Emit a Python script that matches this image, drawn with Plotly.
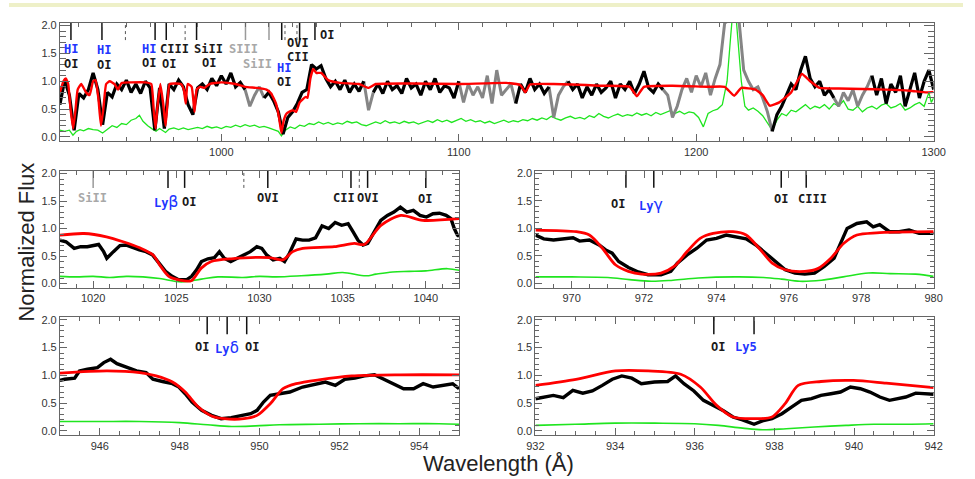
import plotly.graph_objects as go

W, H = 975, 479

# ---------------- DATA ----------------
# Top panel: overview spectrum (2 A grid)
top_wl = list(range(932, 1301, 2))
top_flux = [
    0.58, 1.02, 0.75, 0.12, 0.78, 0.70, 0.85, 1.15, 0.85, 0.22,
    0.80, 0.72, 0.95, 0.85, 1.02, 0.80, 0.95, 0.78, 1.00, 0.88,
    0.12, 0.88, 0.15, 0.95, 0.85, 1.02, 0.90, 0.58, 0.40, 0.88,
    0.95, 0.85, 1.05, 0.92, 1.10, 0.95, 1.15, 0.90, 0.98, 0.85,
    0.55, 0.75, 0.90, 0.70, 0.80, 0.65, 0.45, 0.05, 0.35, 0.45,
    0.60, 0.80, 0.85, 1.30, 1.22, 1.28, 1.05, 0.90, 1.00, 0.85,
    1.02, 0.80, 0.95, 0.82, 1.00, 0.48, 0.80, 0.95, 0.78, 1.00,
    0.85, 0.92, 0.78, 1.05, 0.88, 0.95, 0.75, 1.00, 0.85, 1.05,
    0.80, 0.92, 0.88, 0.70, 1.00, 0.62, 0.95, 0.75, 0.90, 0.70,
    1.10, 0.60, 1.20, 0.75, 0.85, 0.95, 0.60, 0.95, 0.80, 1.05,
    0.85, 0.95, 0.78, 0.90, 0.35, 0.75, 0.90, 1.00, 0.85, 0.95,
    0.70, 0.90, 0.75, 0.95, 0.80, 0.88, 1.00, 0.70, 0.95, 0.85,
    1.00, 0.78, 0.95, 1.18, 0.88, 0.80, 0.95, 0.85, 0.75, 0.35,
    0.55, 0.85, 1.05, 0.80, 1.10, 0.90, 1.15, 0.75, 1.05, 1.30,
    2.05, 2.10, 2.10, 2.10, 1.20, 1.00, 0.85, 0.90, 0.70, 0.45,
    0.10, 0.40, 0.55, 0.75, 0.95, 0.85, 1.20, 1.45, 1.05, 0.90,
    1.00, 0.75, 0.85, 0.70, 0.55, 0.80, 0.65, 0.85, 0.55, 0.75,
    0.90, 1.10, 0.75, 1.05, 0.60, 0.95, 0.80, 1.10, 0.55, 0.85,
    1.15, 0.70, 1.00, 1.20, 0.85,
]
# wavelength ranges where the overview data are flagged (drawn in gray)
top_gray_ranges = [(1010, 1018), (1060, 1064), (1100, 1124), (1138, 1146),
                   (1186, 1232), (1258, 1274)]

top_model_wl = [932, 933.5, 934.5, 935.5, 936.5, 937.6, 938.6, 939.5, 941, 943, 944.5,
                946, 947, 948.2, 949.3, 950.3, 951.5, 953, 955, 956.5, 958, 962, 968,
                970.5, 971.5, 972.3, 973, 974.3, 975.5, 976.5, 977.3, 978.2, 983, 984.2,
                985, 985.8, 987.5, 988.7, 989.6, 991, 993, 995, 1000, 1006, 1010, 1015,
                1019, 1021, 1023, 1024.3, 1025.3, 1026.3, 1027.5, 1030, 1031.5, 1033,
                1035.5, 1036.3, 1037.5, 1038.7, 1040, 1042, 1045, 1050, 1058, 1062,
                1065, 1080, 1100, 1120, 1126, 1128, 1130, 1140, 1160, 1172, 1175, 1178,
                1190, 1205, 1212, 1216, 1219, 1225, 1228, 1231, 1235, 1240, 1244.5,
                1248, 1252, 1260, 1270, 1280, 1290, 1297, 1300]
top_model = [0.80, 1.00, 1.05, 0.95, 0.50, 0.15, 0.50, 0.85, 0.95, 0.80, 0.75,
             1.00, 1.02, 0.70, 0.20, 0.50, 0.95, 1.00, 0.95, 0.85, 0.97, 0.98, 0.98,
             0.95, 0.50, 0.15, 0.50, 0.95, 0.60, 0.20, 0.60, 0.95, 0.95, 0.85,
             0.60, 0.95, 0.90, 0.45, 0.85, 0.90, 0.88, 0.95, 0.98, 0.95, 0.90, 0.88,
             0.85, 0.78, 0.60, 0.35, 0.07, 0.30, 0.42, 0.48, 0.45, 0.62,
             0.72, 0.70, 1.05, 1.22, 1.15, 1.15, 1.02, 0.97, 0.95, 0.88,
             0.95, 0.96, 0.95, 0.97, 0.93, 0.80, 0.94, 0.95, 0.92, 0.90, 0.73, 0.90,
             0.92, 0.90, 0.90, 0.74, 0.88, 0.85, 0.75, 0.56, 0.62, 0.80, 1.13,
             1.00, 0.88, 0.87, 0.86, 0.85, 0.83, 0.80, 0.81]

top_err_wl = [932, 934, 936, 937.5, 939, 940.5, 942, 944, 946, 948, 950, 952, 954, 956, 958,
              960, 962, 964, 965.5, 967, 969, 971, 972.5, 974, 976.5, 978, 980, 982, 984,
              986, 988, 990, 992, 994, 996, 998, 1000, 1002, 1004, 1006, 1008, 1010, 1012,
              1014, 1016, 1018, 1020, 1022, 1024, 1025.3, 1027, 1029, 1031, 1033, 1035,
              1037, 1039, 1041, 1043, 1045, 1047, 1049, 1051, 1053, 1055, 1057, 1059,
              1061, 1063, 1065, 1067, 1069, 1071, 1073, 1075, 1077, 1079, 1081, 1083,
              1085, 1087, 1089, 1091, 1093, 1095, 1097, 1099, 1101, 1103, 1105, 1107,
              1109, 1111, 1113, 1115, 1117, 1119, 1121, 1123, 1125, 1127, 1129, 1131,
              1133, 1135, 1137, 1139, 1141, 1143, 1145, 1147, 1149, 1151, 1153, 1155,
              1157, 1159, 1161, 1163, 1165, 1167, 1169, 1171, 1173, 1175, 1177, 1179,
              1181, 1183, 1185, 1187, 1189, 1191, 1193, 1195, 1197, 1199, 1201, 1203,
              1205, 1207, 1209, 1211, 1213, 1214.5, 1215.5, 1216.5, 1217.5, 1219, 1220.5,
              1222, 1224, 1226, 1228, 1230, 1232, 1234, 1236, 1238, 1240, 1242, 1244,
              1246, 1248, 1250, 1252, 1254, 1256, 1258, 1260, 1262, 1264, 1266, 1268,
              1270, 1272, 1274, 1276, 1278, 1280, 1282, 1284, 1286, 1288, 1290, 1292,
              1294, 1296, 1298, 1299, 1300]
top_err = [0.12, 0.10, 0.12, 0.03, 0.10, 0.13, 0.11, 0.15, 0.13, 0.12, 0.07, 0.14, 0.20, 0.17, 0.24,
           0.22, 0.30, 0.33, 0.39, 0.28, 0.20, 0.14, 0.10, 0.15, 0.08, 0.14, 0.16, 0.13, 0.16,
           0.13, 0.15, 0.17, 0.15, 0.19, 0.16, 0.18, 0.15, 0.19, 0.17, 0.21, 0.18, 0.22, 0.19,
           0.21, 0.17, 0.19, 0.16, 0.13, 0.10, 0.02, 0.12, 0.18, 0.15, 0.21, 0.19,
           0.24, 0.22, 0.27, 0.23, 0.26, 0.22, 0.25, 0.23, 0.28, 0.25, 0.27, 0.22,
           0.20, 0.24, 0.27, 0.24, 0.29, 0.25, 0.27, 0.24, 0.28, 0.25, 0.27, 0.23,
           0.26, 0.29, 0.26, 0.31, 0.27, 0.30, 0.26, 0.29, 0.33, 0.28, 0.31, 0.27,
           0.29, 0.25, 0.28, 0.24, 0.27, 0.30, 0.26, 0.29, 0.27, 0.31, 0.29, 0.33,
           0.30, 0.34, 0.31, 0.37, 0.33, 0.30, 0.34, 0.37, 0.33, 0.35, 0.32, 0.38,
           0.35, 0.42, 0.37, 0.34, 0.38, 0.41, 0.37, 0.40, 0.38, 0.43, 0.39, 0.42,
           0.38, 0.44, 0.40, 0.43, 0.47, 0.42, 0.46, 0.41, 0.45, 0.43, 0.35, 0.18,
           0.42, 0.47, 0.50, 0.58, 1.00, 1.80, 2.30, 2.30, 1.80, 1.00, 0.55,
           0.48, 0.52, 0.46, 0.38, 0.25, 0.12, 0.30, 0.42, 0.38, 0.48, 0.45, 0.52,
           0.58, 0.50, 0.55, 0.52, 0.58, 0.50, 0.60, 0.55, 0.65, 0.50, 0.48, 0.55,
           0.45, 0.52, 0.55, 0.50, 0.57, 0.60, 0.52, 0.55, 0.60, 0.48, 0.52, 0.58,
           0.62, 0.55, 0.80, 0.62, 0.70]

# Line identification ticks (wavelength, style) for overview panel
top_line_wl = [936.66, 949.72, 959.6, 972.1, 976.8, 984.75, 989.57, 1010.17, 1020.07,
               1025.43, 1026.8, 1031.85, 1032.96, 1039.43]
top_line_kind = ["solid", "solid", "dot", "solid", "solid", "dot", "solid", "gray", "gray",
                 "solid", "dot", "dot", "solid", "solid"]
top_labels = [("HI", 936.7, 1.58, "b"), ("OI", 936.7, 1.31, "k"),
              ("HI", 950.7, 1.57, "b"), ("OI", 950.7, 1.30, "k"),
              ("HI", 969.4, 1.58, "b"), ("OI", 969.4, 1.32, "k"),
              ("CIII", 980.3, 1.58, "k"), ("OI", 977.9, 1.31, "k"),
              ("SiII", 994.6, 1.58, "k"), ("OI", 994.6, 1.33, "k"),
              ("SIII", 1009.2, 1.58, "g"), ("SiII", 1015.2, 1.31, "g"),
              ("HI", 1026.4, 1.24, "b"), ("OI", 1026.4, 0.98, "k"),
              ("OVI", 1032.1, 1.68, "k"), ("CII", 1032.1, 1.44, "k"),
              ("OI", 1044.5, 1.83, "k")]

# Panel 2: Ly-beta region
p2_wl = [1018.00, 1018.37, 1018.86, 1019.25, 1019.65, 1020.04, 1020.33, 1020.63, 1020.82,
         1021.22, 1021.61, 1022.00, 1022.39, 1022.78, 1023.18, 1023.57, 1023.96, 1024.35,
         1024.75, 1025.14, 1025.63, 1025.92, 1026.22, 1026.51, 1026.90, 1027.29, 1027.59,
         1027.88, 1028.27, 1028.67, 1029.06, 1029.45, 1029.84, 1030.14, 1030.43, 1030.82,
         1031.22, 1031.51, 1031.80, 1032.20, 1032.59, 1032.98, 1033.37, 1033.76, 1034.16,
         1034.55, 1034.94, 1035.33, 1035.63, 1035.92, 1036.22, 1036.51, 1036.90, 1037.29,
         1037.69, 1038.08, 1038.47, 1038.86, 1039.25, 1039.65, 1040.04, 1040.43, 1040.82,
         1041.22, 1041.51, 1041.71, 1041.90, 1042.0]
p2_flux = [0.79, 0.76, 0.64, 0.67, 0.67, 0.70, 0.71, 0.58, 0.46,
           0.58, 0.69, 0.70, 0.65, 0.61, 0.58, 0.52, 0.37, 0.22,
           0.13, 0.07, 0.07, 0.13, 0.25, 0.40, 0.45, 0.47, 0.58,
           0.46, 0.40, 0.46, 0.52, 0.58, 0.67, 0.64, 0.52, 0.43,
           0.46, 0.40, 0.55, 0.81, 0.79, 0.79, 0.83, 1.05, 1.00,
           1.11, 1.06, 1.09, 0.94, 0.79, 0.70, 0.73, 0.94, 1.15,
           1.24, 1.30, 1.39, 1.30, 1.33, 1.24, 1.21, 1.27, 1.28,
           1.24, 1.18, 1.00, 0.88, 0.86]
p2_model_wl = [1018.0, 1019.45, 1020.8, 1021.8, 1022.8, 1023.6, 1024.0, 1024.55, 1025.1,
               1025.9, 1026.5, 1027.1, 1028.3, 1030.6, 1031.4, 1032.0, 1032.6, 1034.5,
               1035.7, 1036.3, 1037.3, 1038.5, 1039.8, 1042.0]
p2_model = [0.88, 0.91, 0.85, 0.76, 0.65, 0.52, 0.34, 0.13, 0.07,
            0.05, 0.28, 0.40, 0.45, 0.47, 0.43, 0.58, 0.64, 0.67,
            0.73, 0.71, 1.06, 1.24, 1.15, 1.18]
p2_err_wl = [1018, 1019, 1020, 1021, 1022, 1023, 1024, 1025.3, 1026.5, 1027.5, 1029, 1030,
             1031, 1032.5, 1034, 1035, 1036.4, 1037, 1038, 1039, 1040, 1041.3, 1042]
p2_err = [0.13, 0.12, 0.13, 0.11, 0.13, 0.12, 0.09, 0.03, 0.08, 0.12, 0.11, 0.13,
          0.12, 0.14, 0.17, 0.20, 0.14, 0.17, 0.21, 0.22, 0.23, 0.27, 0.24]
p2_line_wl = [1020.0, 1024.5, 1025.5, 1029.06, 1030.5, 1035.5, 1036.0, 1036.5, 1040.0]
p2_line_kind = ["gray", "solid", "solid", "dot", "solid", "solid", "dot", "solid", "solid"]
p2_labels = [("SiII", 1019.94, 1.55, "g"), ("Lyβ", 1024.35, 1.49, "b"),
             ("OI", 1025.76, 1.49, "k"), ("OVI", 1030.53, 1.56, "k"),
             ("CII", 1035.06, 1.55, "k"), ("OVI", 1036.53, 1.55, "k"),
             ("OI", 1039.94, 1.53, "k")]

# Panel 3: Ly-gamma region
p3_wl = [969.00, 969.23, 969.50, 969.77, 970.04, 970.22, 970.49, 970.76, 970.94, 971.12,
         971.30, 971.57, 971.84, 972.11, 972.47, 972.74, 972.92, 973.19, 973.46, 973.73,
         974.00, 974.27, 974.55, 974.82, 975.09, 975.36, 975.63, 975.90, 976.17, 976.44,
         976.71, 976.98, 977.25, 977.43, 977.61, 977.88, 978.15, 978.33, 978.51, 978.78,
         979.05, 979.32, 979.60, 980.00]
p3_flux = [0.88, 0.81, 0.79, 0.81, 0.83, 0.77, 0.79, 0.70, 0.61, 0.55,
           0.40, 0.29, 0.21, 0.16, 0.16, 0.22, 0.37, 0.52, 0.64, 0.79,
           0.82, 0.88, 0.85, 0.81, 0.70, 0.55, 0.40, 0.25, 0.19, 0.17,
           0.19, 0.31, 0.46, 0.73, 1.00, 1.09, 1.12, 1.03, 1.07, 0.94,
           0.94, 0.97, 0.91, 0.91]
p3_model_wl = [969.0, 970.13, 970.49, 970.85, 971.21, 971.57, 971.93, 972.47, 972.83, 973.19,
               973.55, 973.91, 974.46, 974.82, 975.18, 975.54, 975.90, 976.44, 976.80,
               977.16, 977.52, 977.88, 978.42, 980.0]
p3_model = [0.97, 0.94, 0.88, 0.64, 0.34, 0.22, 0.17, 0.19, 0.31, 0.58,
            0.82, 0.91, 0.94, 0.88, 0.64, 0.37, 0.25, 0.22, 0.27,
            0.46, 0.73, 0.88, 0.92, 0.94]
p3_err_wl = [969, 970, 971, 971.6, 972.2, 972.8, 973.5, 974.5, 975.3, 975.8, 976.3, 976.9,
             977.5, 978.2, 978.8, 979.5, 980]
p3_err = [0.12, 0.12, 0.11, 0.07, 0.04, 0.06, 0.10, 0.12, 0.11, 0.08, 0.04, 0.06,
          0.12, 0.19, 0.18, 0.17, 0.13]
p3_line_wl = [971.5, 972.27, 975.79, 976.48]
p3_line_kind = ["solid", "solid", "solid", "solid"]
p3_labels = [("OI", 971.29, 1.44, "k"), ("Lyγ", 972.2, 1.44, "b"),
             ("OI", 975.79, 1.53, "k"), ("CIII", 976.66, 1.53, "k")]

# Panel 4: Ly-delta region
p4_wl = [945.00, 945.12, 945.37, 945.49, 945.69, 945.94, 946.10, 946.27, 946.43, 946.67,
         946.92, 947.16, 947.33, 947.57, 947.82, 947.98, 948.14, 948.31, 948.55, 948.80,
         949.04, 949.29, 949.53, 949.78, 949.94, 950.10, 950.27, 950.51, 950.76, 951.08,
         951.41, 951.65, 951.90, 952.14, 952.39, 952.63, 952.88, 953.12, 953.37, 953.61,
         953.86, 954.10, 954.35, 954.59, 954.84, 955.00]
p4_flux = [0.91, 0.93, 0.95, 1.08, 1.11, 1.14, 1.23, 1.29, 1.21, 1.14,
           1.08, 1.05, 0.93, 0.89, 0.85, 0.79, 0.67, 0.52, 0.37, 0.28,
           0.22, 0.24, 0.27, 0.31, 0.37, 0.52, 0.64, 0.67, 0.70, 0.79,
           0.85, 0.88, 0.82, 0.93, 0.95, 0.99, 1.01, 0.93, 0.85, 0.76,
           0.76, 0.85, 0.79, 0.82, 0.85, 0.76]
p4_model_wl = [945.0, 946.18, 947.0, 947.41, 947.82, 948.14, 948.47, 948.8, 949.12, 949.61,
               949.94, 950.27, 950.59, 950.92, 951.49, 952.31, 953.53, 955.0]
p4_model = [1.04, 1.08, 1.05, 0.99, 0.88, 0.70, 0.43, 0.27, 0.22, 0.22,
            0.28, 0.49, 0.76, 0.85, 0.92, 0.99, 1.01, 1.01]
p4_err_wl = [945, 946, 947, 948, 948.7, 949.3, 949.9, 950.5, 951.5, 952.5, 953.5, 954.5, 955]
p4_err = [0.17, 0.17, 0.17, 0.15, 0.11, 0.08, 0.09, 0.11, 0.12, 0.13, 0.13, 0.13, 0.12]
p4_line_wl = [948.69, 949.19, 949.68]
p4_line_kind = ["solid", "solid", "solid"]
p4_labels = [("OI", 948.55, 1.51, "k"), ("Lyδ", 949.19, 1.51, "b"),
             ("OI", 949.82, 1.51, "k")]

# Panel 5: Ly-5 region
p5_wl = [932.00, 932.20, 932.45, 932.70, 932.94, 933.19, 933.43, 933.68, 933.93, 934.17,
         934.42, 934.66, 934.99, 935.32, 935.52, 935.73, 935.98, 936.22, 936.47, 936.71,
         936.96, 937.20, 937.49, 937.70, 937.94, 938.19, 938.43, 938.68, 938.93, 939.17,
         939.42, 939.66, 939.91, 940.16, 940.40, 940.65, 940.89, 941.14, 941.30, 941.55,
         941.80, 942.00]
p5_flux = [0.58, 0.61, 0.64, 0.60, 0.73, 0.68, 0.72, 0.82, 0.93, 0.99,
           0.95, 0.85, 0.88, 0.89, 0.99, 0.85, 0.72, 0.55, 0.46, 0.37,
           0.25, 0.20, 0.12, 0.18, 0.22, 0.31, 0.43, 0.55, 0.58, 0.64,
           0.67, 0.70, 0.79, 0.76, 0.70, 0.61, 0.55, 0.58, 0.61, 0.68,
           0.67, 0.66]
p5_model_wl = [932.0, 933.02, 934.01, 934.83, 935.65, 936.14, 936.55, 936.96, 937.53, 937.94,
               938.27, 938.6, 939.17, 939.99, 940.81, 942.0]
p5_model = [0.82, 0.93, 1.08, 1.08, 1.02, 0.79, 0.46, 0.25, 0.22, 0.25,
            0.49, 0.82, 0.89, 0.91, 0.86, 0.78]
p5_err_wl = [932, 933, 934, 935, 936, 936.6, 937.2, 937.7, 938.3, 939, 939.8, 940.5, 941.3, 942]
p5_err = [0.10, 0.12, 0.14, 0.14, 0.13, 0.10, 0.05, 0.02, 0.04, 0.07, 0.10, 0.12, 0.12, 0.13]
p5_line_wl = [936.48, 937.49]
p5_line_kind = ["solid", "solid"]
p5_labels = [("OI", 936.59, 1.51, "k"), ("Ly5", 937.3, 1.51, "b")]

# ---------------- STYLE / LAYOUT ----------------
BLACK = "#000000"
GRAYDATA = "#858585"
RED = "#ff0000"
GREEN = "#1fe51f"
LABEL_COL = {"k": "#1a1a1a", "b": "#2235ff", "g": "#a8a8a8"}
TICK_TOP, TICK_BOT = 2.05, 1.74

def xd(a, b):
    return [a / W, b / W]

def yd(top, bottom):
    return [1 - bottom / H, 1 - top / H]

panels = {
    1: dict(x=xd(52, 945), y=yd(20, 139.5), xr=[932, 1300], dt=100, t0=1000, mdt=10),
    2: dict(x=xd(52, 460), y=yd(169.3, 287.3), xr=[1018, 1042], dt=5, t0=1020, mdt=1),
    3: dict(x=xd(538, 945), y=yd(169, 287.3), xr=[969, 980], dt=2, t0=970, mdt=0.5),
    4: dict(x=xd(52, 460), y=yd(316.7, 436), xr=[945, 955], dt=2, t0=946, mdt=0.5),
    5: dict(x=xd(538, 945), y=yd(316.7, 436), xr=[932, 942], dt=2, t0=932, mdt=0.5),
}

fig = go.Figure()

def axn(i):
    return ("x", "y") if i == 1 else (f"x{i}", f"y{i}")

def add_lines(i, wls, kinds):
    xa, ya = axn(i)
    for kind, col, dash, wd in [("solid", "#111111", "solid", 1.5),
                                ("dot", "#555555", "dot", 1.0),
                                ("gray", "#9a9a9a", "solid", 1.5)]:
        xs, ys = [], []
        for w, k in zip(wls, kinds):
            if k == kind:
                xs += [w, w, None]
                ys += [TICK_BOT, TICK_TOP, None]
        if xs:
            fig.add_trace(go.Scatter(x=xs, y=ys, mode="lines", xaxis=xa, yaxis=ya,
                                     line=dict(color=col, width=wd, dash=dash),
                                     hoverinfo="skip", showlegend=False))

def add_labels(i, labels):
    xa, ya = axn(i)
    for txt, w, v, c in labels:
        if txt.startswith("Ly") and txt[2] in "βγδ":
            t = "<b>Ly</b><span style='font-size:16px'>" + txt[2] + "</span>"
        else:
            t = "<b>" + txt + "</b>"
        fig.add_annotation(x=w, y=v, xref=xa, yref=ya, text=t, showarrow=False,
                           xanchor="center", yanchor="middle",
                           font=dict(family="DejaVu Sans Mono", size=12, color=LABEL_COL[c]))

# top panel traces
def in_gray(w):
    return any(a <= w <= b for a, b in top_gray_ranges)

def strictly_in_gray(w):
    return any(a < w < b for a, b in top_gray_ranges)

gray_y = [f if in_gray(w) else None for w, f in zip(top_wl, top_flux)]
black_y = [None if strictly_in_gray(w) else f for w, f in zip(top_wl, top_flux)]

fig.add_trace(go.Scatter(x=top_err_wl, y=top_err, mode="lines", line=dict(color=GREEN, width=1.3),
                         xaxis="x", yaxis="y", hoverinfo="skip", showlegend=False))
fig.add_trace(go.Scatter(x=top_wl, y=gray_y, mode="lines", line=dict(color=GRAYDATA, width=3.0),
                         xaxis="x", yaxis="y", hoverinfo="skip", showlegend=False, connectgaps=False))
fig.add_trace(go.Scatter(x=top_wl, y=black_y, mode="lines", line=dict(color=BLACK, width=3.2),
                         xaxis="x", yaxis="y", hoverinfo="skip", showlegend=False, connectgaps=False))
fig.add_trace(go.Scatter(x=top_model_wl, y=top_model, mode="lines",
                         line=dict(color=RED, width=2.4, shape="spline", smoothing=0.4),
                         xaxis="x", yaxis="y", hoverinfo="skip", showlegend=False))
add_lines(1, top_line_wl, top_line_kind)
add_labels(1, top_labels)

zoom_sets = [
    (2, p2_wl, p2_flux, p2_model_wl, p2_model, p2_err_wl, p2_err, p2_line_wl, p2_line_kind, p2_labels),
    (3, p3_wl, p3_flux, p3_model_wl, p3_model, p3_err_wl, p3_err, p3_line_wl, p3_line_kind, p3_labels),
    (4, p4_wl, p4_flux, p4_model_wl, p4_model, p4_err_wl, p4_err, p4_line_wl, p4_line_kind, p4_labels),
    (5, p5_wl, p5_flux, p5_model_wl, p5_model, p5_err_wl, p5_err, p5_line_wl, p5_line_kind, p5_labels),
]
for i, dw, df, mw, mf, ew, ef, lw, lk, lab in zoom_sets:
    xa, ya = axn(i)
    fig.add_trace(go.Scatter(x=ew, y=ef, mode="lines", line=dict(color=GREEN, width=1.6, shape="spline"),
                             xaxis=xa, yaxis=ya, hoverinfo="skip", showlegend=False))
    fig.add_trace(go.Scatter(x=dw, y=df, mode="lines", line=dict(color=BLACK, width=3.4),
                             xaxis=xa, yaxis=ya, hoverinfo="skip", showlegend=False))
    fig.add_trace(go.Scatter(x=mw, y=mf, mode="lines", line=dict(color=RED, width=2.8, shape="spline", smoothing=0.8),
                             xaxis=xa, yaxis=ya, hoverinfo="skip", showlegend=False))
    add_lines(i, lw, lk)
    add_labels(i, lab)

tickfont = dict(family="Liberation Sans, Arial, sans-serif", size=11, color="#333333")
layout = dict(width=W, height=H, margin=dict(l=0, r=0, t=0, b=0),
              paper_bgcolor="white", plot_bgcolor="white", showlegend=False)
for i, p in panels.items():
    xa, ya = axn(i)
    xkey = "xaxis" if i == 1 else f"xaxis{i}"
    ykey = "yaxis" if i == 1 else f"yaxis{i}"
    ylen_major = 10 if i == 1 else 7
    ylen_minor = 6 if i == 1 else 4
    layout[xkey] = dict(domain=p["x"], range=p["xr"], anchor=ya, dtick=p["dt"], tick0=p["t0"],
                        showline=True, linecolor="#666666", linewidth=1, mirror="allticks",
                        ticks="inside", ticklen=7, tickcolor="#666666", tickwidth=1,
                        tickfont=tickfont, showgrid=False, zeroline=False,
                        minor=dict(dtick=p["mdt"], tick0=p["t0"], ticks="inside", ticklen=4,
                                   tickcolor="#666666", showgrid=False))
    layout[ykey] = dict(domain=p["y"], range=[-0.08, 2.05], anchor=xa, dtick=0.5, tick0=0,
                        tickformat=".1f",
                        showline=True, linecolor="#666666", linewidth=1, mirror="allticks",
                        ticks="inside", ticklen=ylen_major, tickcolor="#666666", tickwidth=1,
                        tickfont=tickfont, showgrid=False, zeroline=False,
                        minor=dict(dtick=0.1, tick0=0, ticks="inside", ticklen=ylen_minor,
                                   tickcolor="#666666", showgrid=False))
fig.update_layout(**layout)

fig.add_shape(type="rect", xref="paper", yref="paper", x0=0, x1=1, y0=1 - 4 / H, y1=1,
              fillcolor="#eef0c8", line=dict(width=0), layer="below")
fig.add_annotation(text="Normalized Flux", xref="paper", yref="paper", x=18 / W, y=1 - 241 / H,
                   textangle=-90, showarrow=False, xanchor="center", yanchor="middle",
                   font=dict(family="Liberation Sans, Arial, sans-serif", size=22, color="#222222"))
fig.add_annotation(text="Wavelength (Å)", xref="paper", yref="paper", x=500 / W, y=1 - 464 / H,
                   showarrow=False, xanchor="center", yanchor="middle",
                   font=dict(family="Liberation Sans, Arial, sans-serif", size=22, color="#222222"))

fig.write_html("out.html")
